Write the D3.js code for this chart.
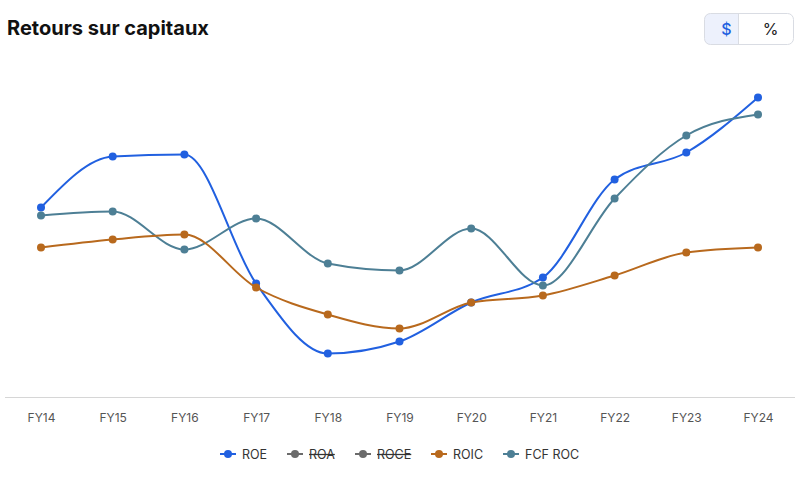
<!DOCTYPE html>
<html lang="fr">
<head>
<meta charset="UTF-8">
<script src="https://cdn.jsdelivr.net/npm/d3@7"></script>
<style>
  body { margin: 0; background: #fff; font-family: Inter, "Noto Sans", sans-serif; }
  svg { display: block; }
</style>
</head>
<body>
<div id="chart"></div>
<script>
// categories
const years = ["FY14", "FY15", "FY16", "FY17", "FY18", "FY19", "FY20", "FY21", "FY22", "FY23", "FY24"];
// series values (%), no y labels in the source
const roe = [19.0, 24.1, 24.3, 11.4, 4.4, 5.6, 9.5, 12.0, 21.8, 24.5, 30.0];
const roic = [15.0, 15.8, 16.3, 11.0, 8.3, 6.9, 9.5, 10.2, 12.2, 14.5, 15.0];
const fcfRoc = [18.2, 18.6, 14.8, 17.9, 13.4, 12.7, 16.9, 11.2, 19.9, 26.2, 28.3];

const legendItems = [
    { name: "ROE", color: "#2160e0", hidden: false },
    { name: "ROA", color: "#6b6b6b", hidden: true },
    { name: "ROCE", color: "#6b6b6b", hidden: true },
    { name: "ROIC", color: "#b8691d", hidden: false },
    { name: "FCF ROC", color: "#4d7f95", hidden: false }
];

const series = [
    { values: roe, color: "#2160e0" },
    { values: fcfRoc, color: "#4d7f95" },
    { values: roic, color: "#b8691d" }
];

const width = 806, height = 480;
const svg = d3.select("#chart").append("svg")
    .attr("width", width)
    .attr("height", height);

// title
svg.append("text")
    .attr("x", 7).attr("y", 35)
    .attr("font-size", 20).attr("font-weight", 700)
    .attr("fill", "#111")
    .text("Retours sur capitaux");

// $ / % toggle
const btn = svg.append("g").attr("transform", "translate(704.5,13.5)");
btn.append("path")
    .attr("d", "M6,0 H34 V31 H6 Q0,31 0,25 V6 Q0,0 6,0 Z")
    .attr("fill", "#edf1fc");
btn.append("rect")
    .attr("width", 89).attr("height", 31).attr("rx", 6)
    .attr("fill", "none").attr("stroke", "#d9dce3");
btn.append("line")
    .attr("x1", 34).attr("x2", 34).attr("y1", 0).attr("y2", 31)
    .attr("stroke", "#d9dce3");
btn.append("text")
    .attr("x", 22).attr("y", 21).attr("text-anchor", "middle")
    .attr("font-size", 16).attr("font-weight", 500).attr("fill", "#2160e0")
    .text("$");
btn.append("text")
    .attr("x", 66).attr("y", 21).attr("text-anchor", "middle")
    .attr("font-size", 16).attr("fill", "#222")
    .text("%");

// scales
const x = d3.scalePoint()
    .domain(years)
    .range([41, 758]);

const y = d3.scaleLinear()
    .domain([0, 30])
    .range([397.5, 97.5]);

// axis
const xAxis = svg.append("g")
    .attr("transform", "translate(0,397)")
    .call(d3.axisBottom(x).tickSize(0).tickPadding(16));
xAxis.select(".domain").remove();
xAxis.selectAll("text")
    .attr("font-family", "Inter, sans-serif")
    .attr("font-size", 12)
    .attr("fill", "#555");
svg.append("line")
    .attr("x1", 5).attr("x2", 795)
    .attr("y1", 397.5).attr("y2", 397.5)
    .attr("stroke", "#d6d6d6");

// lines
const line = d3.line()
    .x((d, i) => x(years[i]))
    .y(d => y(d))
    .curve(d3.curveMonotoneX);

series.forEach(s => {
    svg.append("path")
        .datum(s.values)
        .attr("d", line)
        .attr("fill", "none")
        .attr("stroke", s.color)
        .attr("stroke-width", 2);
    svg.append("g").selectAll("circle")
        .data(s.values)
        .enter()
        .append("circle")
        .attr("cx", (d, i) => x(years[i]))
        .attr("cy", d => y(d))
        .attr("r", 4)
        .attr("fill", s.color);
});

// legend
const legendX = [220, 287, 355, 431, 503];
const legend = svg.append("g").attr("transform", "translate(0,454)");
legendItems.forEach((item, i) => {
    const g = legend.append("g").attr("transform", `translate(${legendX[i]},0)`);
    g.append("line")
        .attr("x1", 0).attr("x2", 16)
        .attr("stroke", item.color).attr("stroke-width", 2);
    g.append("circle")
        .attr("cx", 8).attr("r", 4)
        .attr("fill", item.color);
    const t = g.append("text")
        .attr("x", 22).attr("y", 4.5)
        .attr("font-size", 12.5)
        .attr("fill", "#333")
        .text(item.name);
    if (item.hidden) {
        t.attr("text-decoration", "line-through");
    }
});
</script>
</body>
</html>
